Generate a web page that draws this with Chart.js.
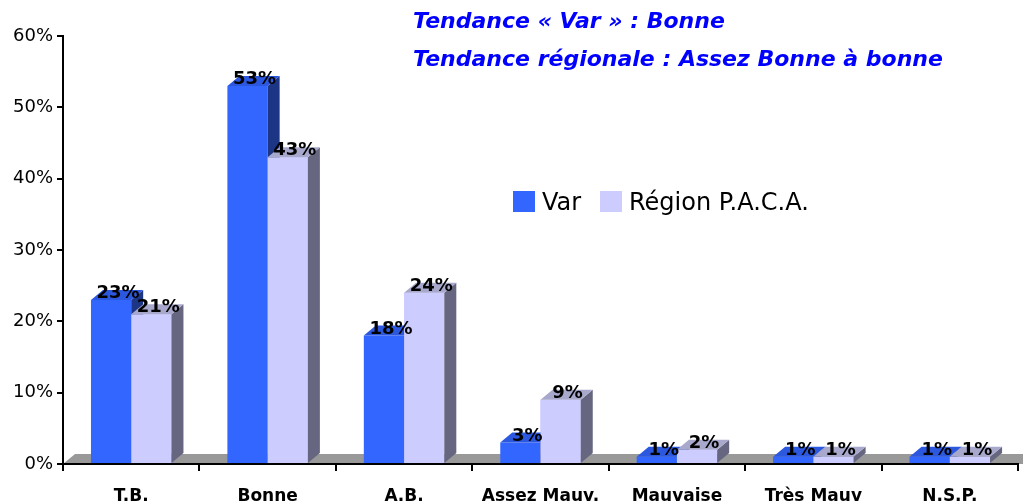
<!DOCTYPE html>
<html><head><meta charset="utf-8">
<script src="https://cdn.jsdelivr.net/npm/chart.js@4.4.0/dist/chart.umd.min.js"></script>
<style>
html,body{margin:0;padding:0;background:#fff;}
#wrap{position:relative;width:1023px;height:504px;overflow:hidden;background:#fff;}
#c{position:absolute;left:0;top:0;}
.ttl{position:absolute;left:413px;font:italic bold 22px "DejaVu Sans";line-height:22px;color:#0000ff;white-space:nowrap;}
.leg{position:absolute;top:191px;height:22px;font:24px "DejaVu Sans";line-height:24px;color:#000;white-space:nowrap;}
.leg i{position:absolute;left:0;top:0;width:22px;height:21px;}
.leg span{position:absolute;left:29px;top:-1px;}
</style></head>
<body><div id="wrap">
<canvas id="c" width="1023" height="504"></canvas>
<div class="ttl" id="t1" style="top:10px"></div>
<div class="ttl" id="t2" style="top:48px"></div>
<div class="leg" id="l0" style="left:513px"><i></i><span></span></div>
<div class="leg" id="l1" style="left:600px"><i></i><span></span></div>
</div>
<script>
const categories = ["T.B.", "Bonne", "A.B.", "Assez Mauv.", "Mauvaise", "Très Mauv", "N.S.P."];
const seriesNames = ["Var", "Région P.A.C.A."];
const varValues = [23, 53, 18, 3, 1, 1, 1];
const regionValues = [21, 43, 24, 9, 2, 1, 1];
const yTicks = [0, 10, 20, 30, 40, 50, 60];
const titleLines = ["Tendance « Var » : Bonne", "Tendance régionale : Assez Bonne à bonne"];

const faceColors = [
  {front:'#3366ff', top:'#2c58e0', side:'#1c3585'},
  {front:'#ccccff', top:'#a8a8cc', side:'#666680'}
];
const DX = 12, DY = 10;

document.getElementById('t1').textContent = titleLines[0];
document.getElementById('t2').textContent = titleLines[1];
['l0','l1'].forEach((id,k)=>{
  const el=document.getElementById(id);
  el.querySelector('i').style.background=faceColors[k].front;
  el.querySelector('span').textContent=seriesNames[k];
});

function poly(ctx, pts, color){
  ctx.beginPath(); ctx.moveTo(pts[0][0],pts[0][1]);
  for(let i=1;i<pts.length;i++) ctx.lineTo(pts[i][0],pts[i][1]);
  ctx.closePath(); ctx.fillStyle=color; ctx.fill();
}

const floorPlugin = {
  id:'floor',
  beforeDraw(chart){
    const ctx=chart.ctx, a=chart.chartArea, y0=chart.scales.y.getPixelForValue(0);
    ctx.save();
    poly(ctx,[[a.left,y0],[a.left+DX,y0-DY],[chart.width,y0-DY],[chart.width,y0]],'#999999');
    ctx.restore();
  }
};

const bars3d = {
  id:'bars3d',
  afterDatasetsDraw(chart){
    const ctx=chart.ctx;
    ctx.save();
    const metas=[chart.getDatasetMeta(0),chart.getDatasetMeta(1)];
    for(let i=0;i<categories.length;i++){
      metas.forEach((m,k)=>{
        const b=m.data[i]; const p=b.getProps(['x','y','base','width'],true);
        const l=p.x-p.width/2, r=p.x+p.width/2, t=p.y, bs=p.base;
        const c=faceColors[k];
        if(k>0) poly(ctx,[[l,t],[r,t],[r,bs],[l,bs]],c.front);
        poly(ctx,[[r,t],[r+DX,t-DY],[r+DX,bs-DY],[r,bs]],c.side);
        poly(ctx,[[l,t],[l+DX,t-DY],[r+DX,t-DY],[r,t]],c.top);
      });
    }
    ctx.font='bold 18px "DejaVu Sans"';
    ctx.fillStyle='#000'; ctx.textAlign='center'; ctx.textBaseline='alphabetic';
    metas.forEach((m,k)=>{
      const vals=chart.data.datasets[k].data;
      m.data.forEach((b,i)=>{
        const p=b.getProps(['x','y'],true);
        ctx.fillText(vals[i]+'%', p.x+7, p.y-2);
      });
    });
    ctx.restore();
  }
};

new Chart(document.getElementById('c'),{
  type:'bar',
  data:{
    labels:categories,
    datasets:[
      {label:seriesNames[0],data:varValues,backgroundColor:faceColors[0].front,borderWidth:0,categoryPercentage:0.59,barPercentage:1},
      {label:seriesNames[1],data:regionValues,backgroundColor:faceColors[1].front,borderWidth:0,categoryPercentage:0.59,barPercentage:1}
    ]
  },
  options:{
    responsive:false, animation:false, devicePixelRatio:1,
    layout:{padding:{top:36,right:5,left:0,bottom:0}},
    plugins:{legend:{display:false},tooltip:{enabled:false},title:{display:false}},
    scales:{
      x:{
        grid:{display:true,drawOnChartArea:false,drawTicks:true,tickLength:7,color:'#000',lineWidth:2,offset:true},
        border:{display:true,color:'#000',width:2},
        ticks:{color:'#000',font:{family:'DejaVu Sans',size:17,weight:'bold'},padding:15,maxRotation:0,autoSkip:false},
        afterFit(s){s.height=40;}
      },
      y:{
        min:0,max:60,
        afterBuildTicks(s){s.ticks=yTicks.map(v=>({value:v}));},
        ticks:{color:'#000',font:{family:'DejaVu Sans',size:18},padding:4,callback:v=>v+'%'},
        grid:{display:true,drawOnChartArea:false,drawTicks:true,tickLength:6,color:'#000',lineWidth:2},
        border:{display:true,color:'#000',width:2},
        afterFit(s){s.width=63;}
      }
    }
  },
  plugins:[floorPlugin,bars3d]
});
</script>
</body></html>
